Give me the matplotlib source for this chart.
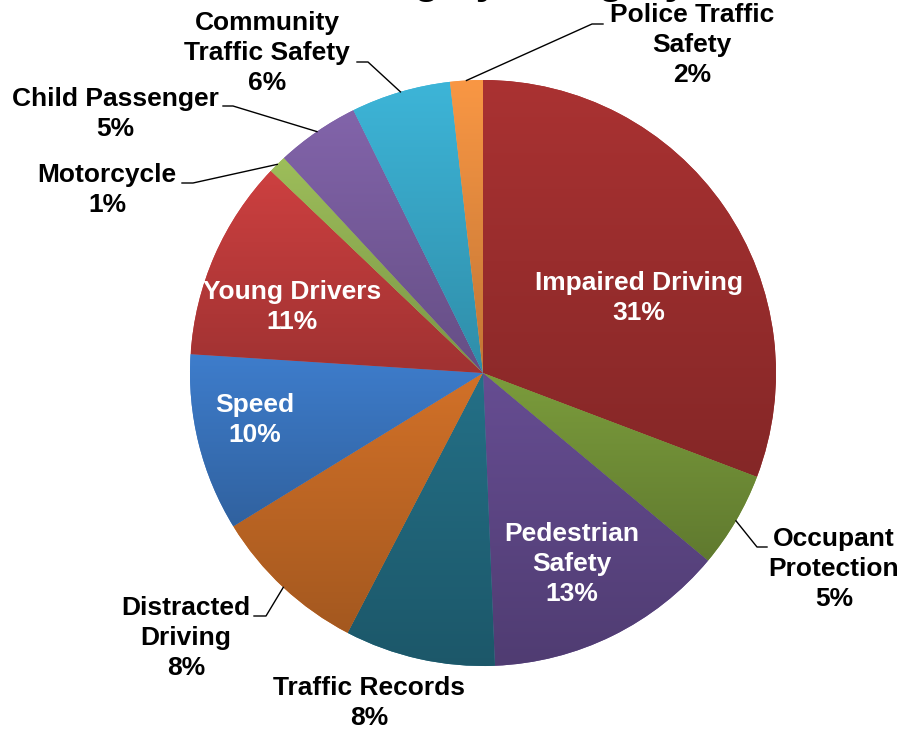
import numpy as np
import matplotlib
matplotlib.use("Agg")
from matplotlib import pyplot as plt
from matplotlib.colors import to_rgb

plt.rcParams['font.family'] = ['Liberation Sans', 'DejaVu Sans']

# slices, clockwise from 12 o'clock
categories = ["Impaired Driving", "Occupant Protection", "Pedestrian Safety", "Traffic Records",
              "Distracted Driving", "Speed", "Young Drivers", "Motorcycle", "Child Passenger",
              "Community Traffic Safety", "Police Traffic Safety"]
shares = [30.8, 5.3, 13.3, 8.3, 8.6, 9.8, 11.1, 1.0, 4.6, 5.5, 1.8]
pct_labels = ["31%", "5%", "13%", "8%", "8%", "10%", "11%", "1%", "5%", "6%", "2%"]
label_names = ["Impaired Driving", "Occupant\nProtection", "Pedestrian\nSafety", "Traffic Records",
               "Distracted\nDriving", "Speed", "Young Drivers", "Motorcycle", "Child Passenger",
               "Community\nTraffic Safety", "Police Traffic\nSafety"]

colors = ["#AA3232", "#7B9C3C", "#664D92", "#247087", "#D27128", "#3E7DCC",
          "#CD4040", "#9DBE5A", "#8264AA", "#3DB5D8", "#F99744"]

W, H = 903, 735
def Y(y):
    return H - y

CX, CY, R = 483, 373, 293

# label layout in image pixels: (x, y, inside?, elbow, end)
label_pos = [
    (639, 298, True, None, None),
    (834, 569, False, (757, 547), (767, 547)),
    (572, 564, True, None, None),
    (369, 703, False, None, None),
    (186, 638, False, (266, 616), (254, 616)),
    (255, 420, True, None, None),
    (292, 307, True, None, None),
    (107, 190, False, (193, 183), (182, 183)),
    (115, 114, False, (233, 106), (223, 106)),
    (267, 53, False, (368, 62), (357, 62)),
    (692, 45, False, (592, 24), (603, 24)),
]

fig = plt.figure(figsize=(W / 100, H / 100), dpi=100)
ax = fig.add_axes([0, 0, 1, 1])

wedges, _ = ax.pie(shares, colors=colors, startangle=90, counterclock=False,
                   center=(CX, Y(CY)), radius=R, wedgeprops=dict(linewidth=0))

# vertical gradient in every slice, lighter at the top
for w, c in zip(wedges, colors):
    t = np.radians(np.linspace(w.theta1, w.theta2, 60))
    xs = np.concatenate([[CX], CX + R * np.cos(t)])
    ys = np.concatenate([[Y(CY)], Y(CY) + R * np.sin(t)])
    top = np.array(to_rgb(c))
    bot = top * 0.78
    f = np.linspace(0, 1, 200)[:, None]
    grad = (top[None, :] * (1 - f) + bot[None, :] * f)[:, None, :]
    im = ax.imshow(grad, extent=(xs.min(), xs.max(), ys.min(), ys.max()),
                   origin='upper', aspect='auto', interpolation='bilinear', zorder=2)
    im.set_clip_path(w)

for w, name, pct, (lx, ly, inside, elbow, end) in zip(wedges, label_names, pct_labels, label_pos):
    ax.text(lx, Y(ly), name + "\n" + pct, ha='center', va='center', multialignment='center',
            fontsize=19, fontweight='bold', color='white' if inside else 'black',
            linespacing=1.32, zorder=5)
    if elbow is not None:
        mid = np.radians((w.theta1 + w.theta2) / 2)
        sx, sy = CX + R * np.cos(mid), Y(CY) + R * np.sin(mid)
        ax.plot([sx, elbow[0], end[0]], [sy, Y(elbow[1]), Y(end[1])], color='black', lw=1.0, zorder=4)

# title, mostly above the visible area (cut off as in the source image)
ax.text(CX, Y(-6.5), "Funding by Category", ha='center', va='baseline',
        fontsize=29.5, fontweight='bold', color='black')

ax.set_xlim(0, W)
ax.set_ylim(0, H)
ax.set_aspect('equal')
ax.axis('off')

fig.savefig("out.png", dpi=100)
